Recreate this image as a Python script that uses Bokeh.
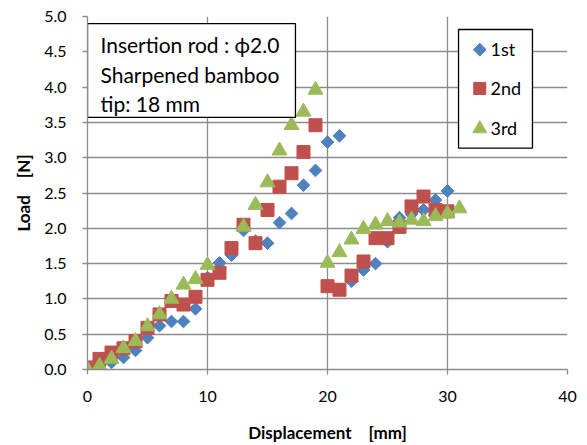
import math
from bokeh.plotting import figure
from bokeh.models import Range1d, FixedTicker, NumeralTickFormatter
from bokeh.core.properties import value
from bokeh.embed import file_html
from bokeh.resources import INLINE

# ---- data ----
series_names = ["1st", "2nd", "3rd"]

x_1st = list(range(0, 31))
y_1st = [0.00, 0.05, 0.10, 0.17, 0.27, 0.45, 0.62, 0.68, 0.68, 0.86,
         1.30, 1.51, 1.62, 1.97, 1.82, 1.79, 2.08, 2.21, 2.61, 2.82,
         3.22, 3.31, 1.25, 1.41, 1.50, 1.81, 2.15, 2.20, 2.26, 2.40, 2.53]

x_2nd = list(range(0, 31))
y_2nd = [0.03, 0.15, 0.24, 0.30, 0.40, 0.59, 0.78, 0.97, 0.92, 1.03,
         1.27, 1.37, 1.72, 2.05, 1.79, 2.26, 2.59, 2.78, 3.08, 3.46,
         1.18, 1.13, 1.33, 1.53, 1.86, 1.86, 2.02, 2.31, 2.45, 2.26, 2.24]

x_3rd = [0, 1, 2, 3, 4, 5, 6, 7, 8, 9, 10, 13, 14, 15, 16, 17, 18, 19,
         20, 21, 22, 23, 24, 25, 26, 27, 28, 29, 30, 31]
y_3rd = [0.00, 0.05, 0.15, 0.30, 0.40, 0.61, 0.78, 1.00, 1.20, 1.28, 1.48,
         2.02, 2.33, 2.65, 3.10, 3.46, 3.65, 3.96,
         1.51, 1.66, 1.84, 1.99, 2.05, 2.10, 2.08, 2.12, 2.10, 2.17, 2.21, 2.28]

x_ticks = [0, 10, 20, 30, 40]
y_ticks = [0.0, 0.5, 1.0, 1.5, 2.0, 2.5, 3.0, 3.5, 4.0, 4.5, 5.0]

note_lines = ["Insertion rod : \u03d52.0", "Sharpened bamboo", "tip: 18 mm"]
x_title = "Displacement\u3000[mm]"
y_title = "Load\u3000[N]"

# ---- styles ----
BLUE = "#4F81BD"
RED = "#C0504D"
GREEN = "#9BBB59"
GRID = "#8C8C8C"
FONT = "Lato"

p = figure(width=587, height=445, output_backend="svg", toolbar_location=None,
           x_range=Range1d(0, 40), y_range=Range1d(0, 5),
           min_border_left=87, min_border_right=20, min_border_top=16, min_border_bottom=75)
p.background_fill_color = "white"
p.border_fill_color = "white"
p.outline_line_color = None

for ax in (p.xaxis[0], p.yaxis[0]):
    ax.axis_line_color = GRID
    ax.axis_line_width = 1.3
    ax.major_tick_line_color = GRID
    ax.major_tick_line_width = 1.3
    ax.major_tick_out = 5
    ax.major_tick_in = 0
    ax.minor_tick_line_color = None
    ax.major_label_text_font = FONT
    ax.major_label_text_font_size = "16px"
    ax.major_label_text_color = "black"
    ax.axis_label_text_font = FONT
    ax.axis_label_text_font_size = "17px"
    ax.axis_label_text_font_style = "bold"
    ax.axis_label_text_color = "black"

p.xaxis.ticker = FixedTicker(ticks=x_ticks)
p.yaxis.ticker = FixedTicker(ticks=y_ticks)
p.xaxis.formatter = NumeralTickFormatter(format="0")
p.yaxis.formatter = NumeralTickFormatter(format="0.0")
p.xaxis.axis_label = x_title
p.yaxis.axis_label = y_title
p.yaxis.major_label_standoff = 16
p.yaxis.axis_label_standoff = 7
p.xaxis.major_label_standoff = 16
p.xaxis.axis_label_standoff = 17

p.xgrid.ticker = FixedTicker(ticks=x_ticks)
p.ygrid.ticker = FixedTicker(ticks=y_ticks)
p.grid.grid_line_color = GRID
p.grid.grid_line_width = 1.3

# ---- series ----
p.scatter(x_1st, y_1st, marker="square", angle=math.pi / 4, size=9,
          fill_color=BLUE, line_color=BLUE)
p.scatter(x_2nd, y_2nd, marker="square", size=13,
          fill_color=RED, line_color=RED)
p.scatter(x_3rd, y_3rd, marker="triangle", size=15,
          fill_color=GREEN, line_color=GREEN)

# ---- note box (top-left) ----
p.quad(left=[0.0], right=[17.33], top=[4.90], bottom=[3.57],
       fill_color="white", line_color="black", line_width=1.3)
p.text(x=[1.08, 1.08, 1.08], y=[4.60, 4.183, 3.773], text=note_lines,
       text_font=value(FONT), text_font_size=value("21px"),
       text_align="left", text_baseline="alphabetic", text_color="black")

# ---- legend box (top-right) ----
p.quad(left=[30.92], right=[37.08], top=[4.816], bottom=[3.136],
       fill_color="white", line_color="black", line_width=1.3)
lx = 32.69
p.scatter([lx], [4.53], marker="square", angle=math.pi / 4, size=9,
          fill_color=BLUE, line_color=BLUE)
p.scatter([lx], [3.98], marker="square", size=12,
          fill_color=RED, line_color=RED)
p.scatter([lx], [3.41], marker="triangle", size=14,
          fill_color=GREEN, line_color=GREEN)
p.text(x=[33.58, 33.58, 33.58], y=[4.54, 3.983, 3.418], text=series_names,
       text_font=value(FONT), text_font_size=value("18px"),
       text_align="left", text_baseline="alphabetic", text_color="black")

open("out.html", "w").write(file_html(p, INLINE))
